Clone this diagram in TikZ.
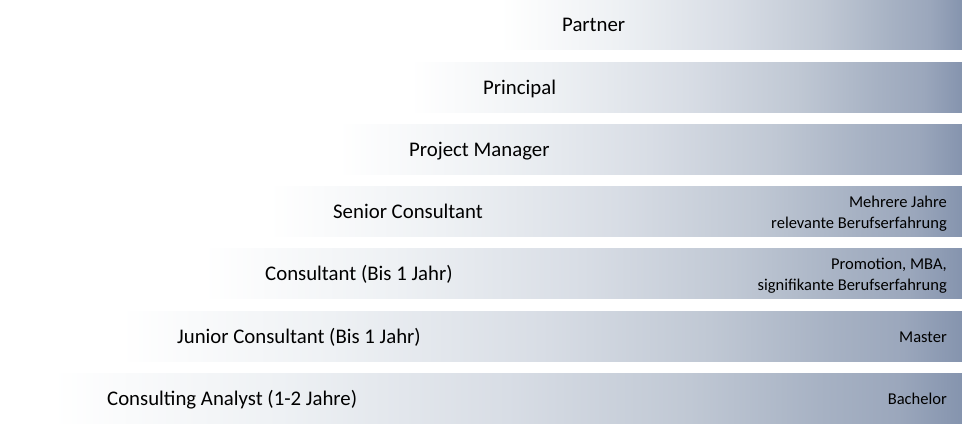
\documentclass[tikz,border=0pt]{standalone}
\usepackage{fontspec}
\setmainfont{Carlito}
\definecolor{rankA}{HTML}{EEF1F4}
\definecolor{rankB}{HTML}{D8DDE5}
\definecolor{rankC}{HTML}{C0C8D4}
\definecolor{rankD}{HTML}{A6B1C3}
\definecolor{rankF}{HTML}{9BA7BC}
\definecolor{rankE}{HTML}{8594AE}
\pgfdeclarehorizontalshading{rankshade}{100bp}{color(0bp)=(white); color(25bp)=(white); color(37.5bp)=(rankA); color(50bp)=(rankB); color(60bp)=(rankC); color(67.5bp)=(rankD); color(71.5bp)=(rankF); color(75bp)=(rankE); color(100bp)=(rankE)}
\tikzset{
  rank/.style={anchor=base west, inner sep=0pt, font=\fontsize{20.8}{24}\selectfont},
  req/.style={anchor=base east, inner sep=0pt, align=right, font=\fontsize{16.5}{21}\selectfont}
}
\begin{document}
\begin{tikzpicture}[x=1pt, y=1pt]
\useasboundingbox (0,0) rectangle (962,-425);
% stufen von oben nach unten
\foreach \n/\l/\t/\s [count=\i from 0] in {partner/500/562/Partner, principal/410/483/Principal, manager/338/409/Project Manager, senior/268/333/Senior Consultant, consultant/203/265/Consultant (Bis 1 Jahr), junior/120/177/Junior Consultant (Bis 1 Jahr), analyst/52/107/Consulting Analyst (1-2 Jahre)} {
        \shade[shading=rankshade] (\l,{-62.2*\i}) rectangle (962,{-62.2*\i-50});
        \node[rank] (\n) at (\t,{-62.2*\i-32}) {\s};
    }
% anforderungen rechts
\node[req] (seniorreq) at (947,{-62.2*3-42}) {Mehrere Jahre\\relevante Berufserfahrung};
\node[req] (consultantreq) at (947,{-62.2*4-42}) {Promotion, MBA,\\signifikante Berufserfahrung};
\node[req] (juniorreq) at (947,{-62.2*5-31}) {Master};
\node[req] (analystreq) at (947,{-62.2*6-31}) {Bachelor};
\end{tikzpicture}
\end{document}
